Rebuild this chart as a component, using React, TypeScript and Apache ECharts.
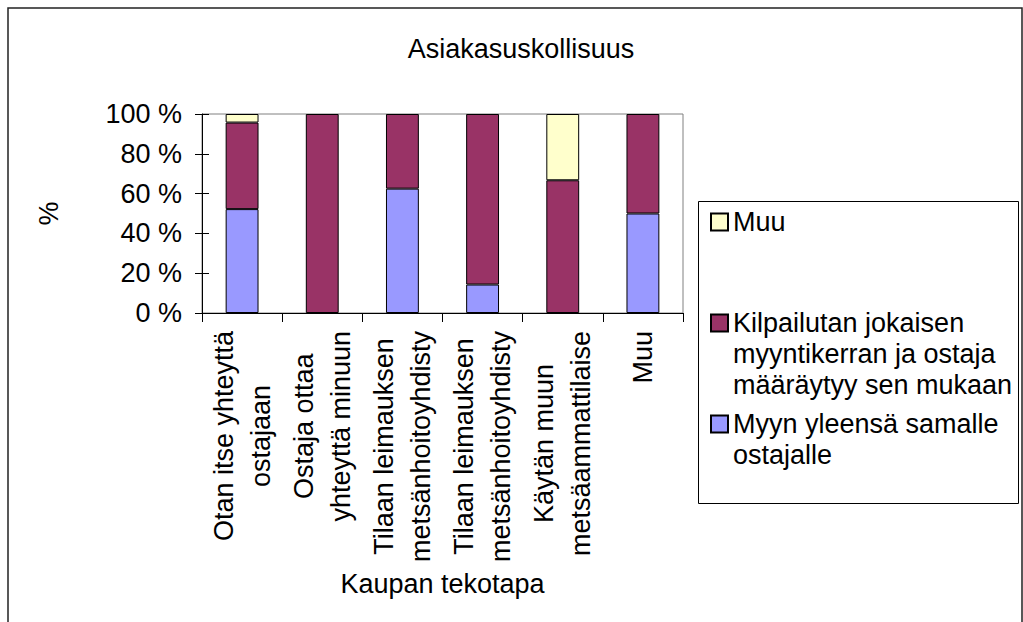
import React, { useEffect, useRef } from "react";
import * as echarts from "echarts";

const FONT = "'Liberation Sans', Arial, sans-serif";

const categories = [
  "Otan itse yhteyttä\nostajaan",
  "Ostaja ottaa\nyhteyttä minuun",
  "Tilaan leimauksen\nmetsänhoitoyhdisty",
  "Tilaan leimauksen\nmetsänhoitoyhdisty",
  "Käytän muun\nmetsäammattilaise",
  "Muu",
];

const seriesNames = [
  "Myyn yleensä samalle\nostajalle",
  "Kilpailutan jokaisen\nmyyntikerran ja ostaja\nmääräytyy sen mukaan",
  "Muu",
];

const myyn = [52.2, 0, 62.5, 14.3, 0, 50];
const kilpailutan = [43.5, 100, 37.5, 85.7, 66.7, 50];
const muu = [4.3, 0, 0, 0, 33.3, 0];

const colors = ["#9999FF", "#993366", "#FFFFCC"];
const yTicks = [0, 20, 40, 60, 80, 100];

export default function App() {
  const ref = useRef<HTMLDivElement>(null);
  useEffect(() => {
    if (!ref.current) return;
    const chart = echarts.init(ref.current, undefined, { renderer: "svg" });
    const values = [myyn, kilpailutan, muu];
    const lh = 31;
    const legendTops = [377.5, 245.5, 206.5];
    const legends = seriesNames.map((name, i) => {
      const n = name.split("\n").length;
      return {
        data: [name],
        left: 710,
        top: legendTops[i],
        padding: 0,
        itemWidth: 17,
        itemHeight: 17,
        icon: "rect",
        selectedMode: false,
        formatter: (v: string) => "\n".repeat(n - 1) + v,
        textStyle: { fontSize: 27, lineHeight: lh, color: "#000", fontFamily: FONT },
      };
    });
    chart.setOption({
      animation: false,
      backgroundColor: "#fff",
      title: {
        text: "Asiakasuskollisuus",
        left: 516,
        top: 30,
        textAlign: "center",
        textStyle: { fontSize: 27, fontWeight: "normal", color: "#000", fontFamily: FONT },
      },
      legend: legends,
      grid: {
        left: 202,
        right: 340,
        top: 114,
        bottom: 309,
        show: true,
        borderColor: "#808080",
        borderWidth: 1,
        containLabel: false,
      },
      graphic: [
        {
          type: "rect",
          shape: { x: 8, y: 8, width: 1014, height: 660 },
          style: { fill: "none", stroke: "#222", lineWidth: 1.5 },
          silent: true,
        },
        {
          type: "rect",
          shape: { x: 698.5, y: 201.5, width: 320, height: 302 },
          style: { fill: "none", stroke: "#000", lineWidth: 1 },
          silent: true,
        },
      ],
      xAxis: {
        type: "category",
        data: categories,
        boundaryGap: true,
        name: "Kaupan tekotapa",
        nameLocation: "middle",
        nameGap: 257,
        nameTextStyle: { fontSize: 27, color: "#000", fontFamily: FONT },
        axisLine: { lineStyle: { color: "#000", width: 1 } },
        axisTick: { show: true, length: 9, lineStyle: { color: "#000" } },
        axisLabel: {
          interval: 0,
          rotate: 90,
          margin: 18,
          color: "#000",
          formatter: (v: string) => v.split("\n").map((s) => `{c|${s}}`).join("\n"),
          rich: {
            c: { align: "center", fontSize: 27, lineHeight: 37, color: "#000", fontFamily: FONT },
          },
        },
        splitLine: { show: false },
      },
      yAxis: [
        {
          type: "value",
          min: yTicks[0],
          max: yTicks[yTicks.length - 1],
          interval: 20,
          name: "%",
          nameLocation: "middle",
          nameRotate: 90,
          nameGap: 140,
          nameTextStyle: { fontSize: 27, color: "#000", fontFamily: FONT },
          axisLine: { show: true, lineStyle: { color: "#000", width: 1 } },
          axisTick: { show: true, length: 7, lineStyle: { color: "#000" } },
          axisLabel: {
            formatter: "{value} %",
            margin: 20,
            fontSize: 27,
            color: "#000",
            fontFamily: FONT,
          },
          splitLine: { show: false },
        },
        {
          type: "value",
          position: "left",
          min: yTicks[0],
          max: yTicks[yTicks.length - 1],
          interval: 20,
          axisLine: { show: false },
          axisTick: { show: true, inside: true, length: 7, lineStyle: { color: "#000" } },
          axisLabel: { show: false },
          splitLine: { show: false },
        },
      ],
      series: seriesNames.map((name, i) => ({
        name,
        type: "bar",
        stack: "total",
        barCategoryGap: "59%",
        data: values[i].map((v) => (v === 0 ? "-" : v)),
        itemStyle: { color: colors[i], borderColor: "#000", borderWidth: 1 },
      })),
    });
    return () => chart.dispose();
  }, []);
  return (
    <div
      ref={ref}
      style={{ position: "absolute", left: 0, top: 0, width: 1023, height: 622 }}
    />
  );
}
